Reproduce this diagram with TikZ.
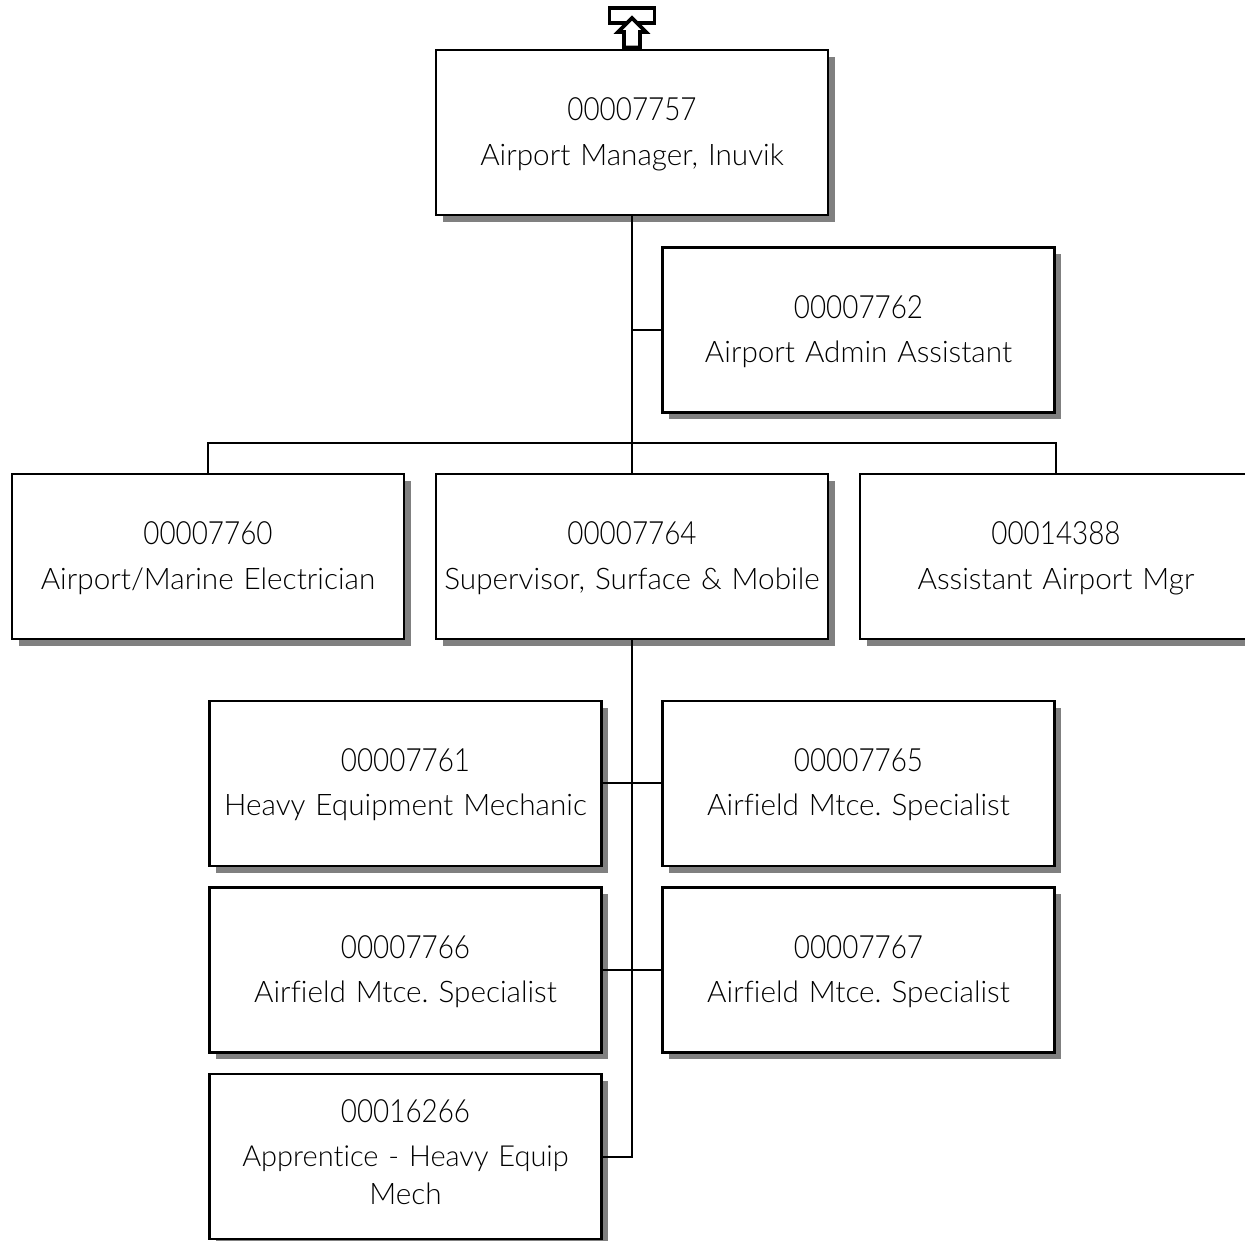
\documentclass[tikz,border=0pt]{standalone}
\usepackage{fontspec}
\setmainfont{Lato}[UprightFont=* Light,Ligatures={NoCommon},WordSpace=0.7]
\newfontfamily\digitfont{Lato}[UprightFont=* Light,FakeStretch=0.87]
\newcommand{\posnum}[1]{{\fontsize{32}{45}\selectfont\digitfont\rule{0pt}{26pt}#1}}
\usetikzlibrary{shadows}
\definecolor{shadowgrey}{HTML}{808080}
\tikzset{
  x=1pt,y=-1pt,
  orgbox/.style={draw=black,line width=2.8pt,fill=white,rectangle,minimum width=392pt,minimum height=165pt,inner sep=0pt,
    text width=385pt,align=center,font=\fontsize{29.7}{45}\selectfont\frenchspacing,
    general shadow={fill=shadowgrey,shadow xshift=6.5pt,shadow yshift=-6.5pt}},
  wire/.style={draw=black,line width=2.8pt},
  marker/.style={draw=black,line width=3.6pt,fill=white,line join=miter}
}
\begin{document}
\begin{tikzpicture}
\path[use as bounding box,clip] (0,0) rectangle (1245,1240);
\coordinate (busY) at (632,443);
\coordinate (j1) at (632,330);
\coordinate (j2) at (632,783);
\coordinate (j3) at (632,970);
\coordinate (j4) at (632,1157);
\node[orgbox] (top) at (632,132.5) {\posnum{00007757}\\Airport Manager, Inuvik};
\node[orgbox] (admin) at (858.5,330) {\posnum{00007762}\\[-1pt]Airport Admin Assistant};
\node[orgbox] (elec) at (208,556.5) {\posnum{00007760}\\Airport/Marine Electrician};
\node[orgbox] (sup) at (632,556.5) {\posnum{00007764}\\Supervisor, Surface \& Mobile};
\node[orgbox] (asst) at (1056,556.5) {\posnum{00014388}\\Assistant Airport Mgr};
\node[orgbox] (mech) at (405.5,783.5) {\posnum{00007761}\\[-1pt]Heavy Equipment Mechanic};
\node[orgbox] (spa) at (858.5,783.5) {\posnum{00007765}\\[-1pt]Airfield Mtce. Specialist};
\node[orgbox] (spb) at (405.5,970) {\posnum{00007766}\\[-1pt]Airfield Mtce. Specialist};
\node[orgbox] (spc) at (858.5,970) {\posnum{00007767}\\[-1pt]Airfield Mtce. Specialist};
\node[orgbox] (appr) at (405.5,1156.5) {\posnum{00016266}\\[-1pt]{\fontsize{29}{45}\selectfont Apprentice - Heavy Equip}\\[-7pt]Mech\rule[-12pt]{0pt}{1pt}};
\draw[wire] (top.south) -- (sup.north);
\draw[wire] (j1) -- (admin.west);
\draw[wire] (elec.north) |- (busY) -| (asst.north);
\draw[wire] (sup.south) -- (j4) -- (appr.east |- j4);
\draw[wire] (mech.east |- j2) -- (spa.west |- j2);
\draw[wire] (spb.east |- j3) -- (spc.west |- j3);
\node[draw=black,line width=3.6pt,fill=white,minimum width=45pt,minimum height=15pt,inner sep=0pt] (flag) at (632,15.5) {};
\draw[marker] (632,18) -- (646,32) -- (640,32) -- (640,47.5) -- (624,47.5) -- (624,32) -- (618,32) -- cycle;
\end{tikzpicture}
\end{document}
